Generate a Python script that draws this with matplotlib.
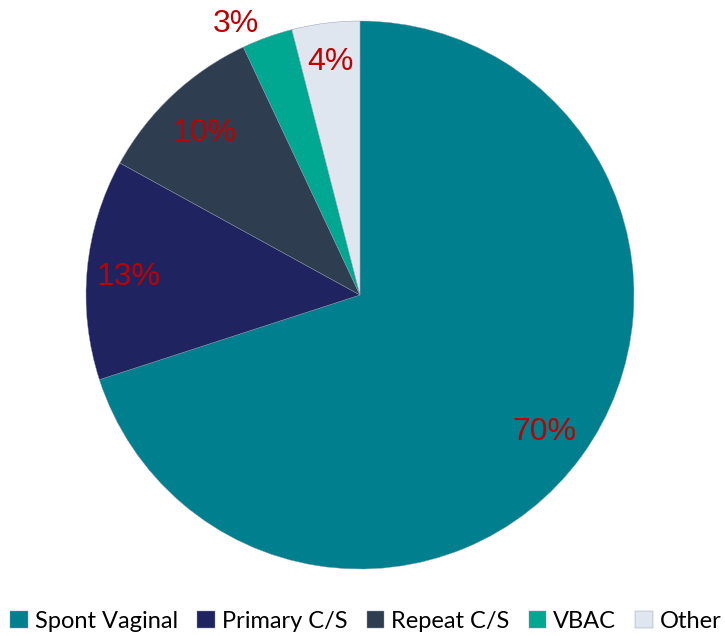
import numpy as np
import matplotlib.pyplot as plt

labels = ["Spont Vaginal", "Primary C/S", "Repeat C/S", "VBAC", "Other"]
values = [70, 13, 10, 3, 4]
colors = ["#00808F", "#1F2460", "#2E3E50", "#00A891", "#E0E6EF"]
pct_text = ["70%", "13%", "10%", "3%", "4%"]
label_dist = [0.83, 0.85, 0.83, 1.1, 0.87]
label_shift = [0, 0, 0, 4.5, 0]  # degrees, nudges the small outside label

W, H = 725, 636
fig = plt.figure(figsize=(W / 100, H / 100), dpi=100)
cx, cy, r = 360, 295, 274
ax = fig.add_axes([(cx - r) / W, (H - cy - r) / H, 2 * r / W, 2 * r / H])

wedges, _ = ax.pie(values, colors=colors, startangle=90, counterclock=False,
                   radius=1, wedgeprops=dict(edgecolor="#8A96A8", linewidth=0.3))
for w, txt, d, s in zip(wedges, pct_text, label_dist, label_shift):
    mid = np.deg2rad((w.theta1 + w.theta2) / 2 + s)
    ax.text(d * np.cos(mid), d * np.sin(mid), txt, ha="center",
            va="center_baseline", color="#C00000", fontsize=23,
            family="Liberation Sans", clip_on=False)
ax.set_xlim(-1, 1)
ax.set_ylim(-1, 1)
ax.set_aspect("equal")
ax.axis("off")

fig.legend(wedges, labels, loc="center", bbox_to_anchor=(0.505, 1 - 621 / H),
           ncol=5, frameon=False, handlelength=0.75, handleheight=0.75,
           handletextpad=0.3, columnspacing=0.8,
           prop=dict(family="Lato", size=17))

fig.savefig("out.png", dpi=100)
